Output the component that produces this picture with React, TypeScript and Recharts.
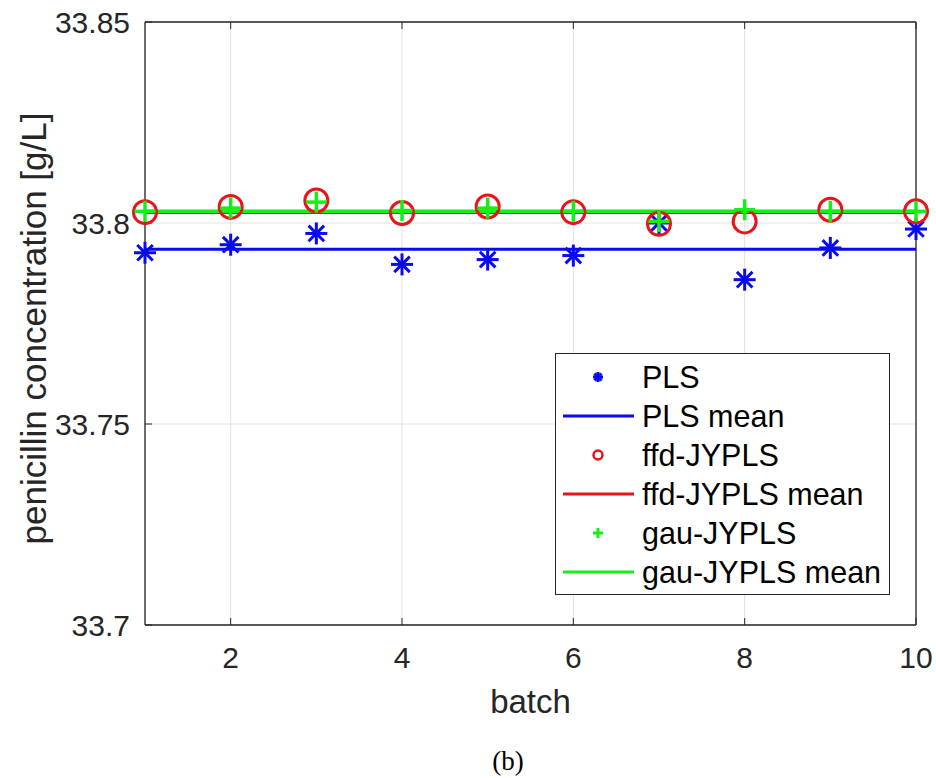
import { ComposedChart, Scatter, Line, XAxis, YAxis, CartesianGrid, Legend, Label } from 'recharts'

// batch results for each model
const BATCHES = [1, 2, 3, 4, 5, 6, 7, 8, 9, 10]
const PLS = [33.7926, 33.7946, 33.7974, 33.7897, 33.7909, 33.7919, 33.8, 33.7859, 33.7938, 33.7985]
const FFD_JYPLS = [33.8027, 33.804, 33.8056, 33.8025, 33.8041, 33.8027, 33.7998, 33.8004, 33.8033, 33.8029]
const GAU_JYPLS = [33.8029, 33.8037, 33.8052, 33.8031, 33.8037, 33.8029, 33.8004, 33.8033, 33.8029, 33.8029]
const PLS_MEAN = 33.7935
const FFD_MEAN = 33.8026
const GAU_MEAN = 33.8029

const X_TICKS = [2, 4, 6, 8, 10]
const Y_TICKS = [33.7, 33.75, 33.8, 33.85]

const BLUE = '#0a0af0'
const RED = '#e8141a'
const GREEN = '#14f014'
const AXIS = '#262626'
const FONT = '"Liberation Sans", Arial, sans-serif'

const data = BATCHES.map((batch, i) => ({
  batch,
  pls: PLS[i],
  plsMean: PLS_MEAN,
  ffd: FFD_JYPLS[i],
  ffdMean: FFD_MEAN,
  gau: GAU_JYPLS[i],
  gauMean: GAU_MEAN,
}))

const Asterisk = ({ cx, cy, r = 11, w = 3 }: any) => {
  const d = r * 0.7071
  return (
    <g stroke={BLUE} strokeWidth={w} strokeLinecap="butt">
      <line x1={cx - r} y1={cy} x2={cx + r} y2={cy} />
      <line x1={cx} y1={cy - r} x2={cx} y2={cy + r} />
      <line x1={cx - d} y1={cy - d} x2={cx + d} y2={cy + d} />
      <line x1={cx - d} y1={cy + d} x2={cx + d} y2={cy - d} />
    </g>
  )
}

const Ring = ({ cx, cy, r = 11.5, w = 3 }: any) => (
  <circle cx={cx} cy={cy} r={r} fill="none" stroke={RED} strokeWidth={w} />
)

const Plus = ({ cx, cy, r = 10.5, w = 3.5 }: any) => (
  <g stroke={GREEN} strokeWidth={w}>
    <line x1={cx - r} y1={cy} x2={cx + r} y2={cy} />
    <line x1={cx} y1={cy - r} x2={cx} y2={cy + r} />
  </g>
)

const SERIES = [
  { key: 'pls', name: 'PLS', icon: <Asterisk cx={42} cy={19} r={5} w={3} /> },
  { key: 'plsMean', name: 'PLS mean', icon: <line x1={7} y1={19} x2={78} y2={19} stroke={BLUE} strokeWidth={3} /> },
  { key: 'ffd', name: 'ffd-JYPLS', icon: <Ring cx={42} cy={19} r={4.5} w={2.5} /> },
  { key: 'ffdMean', name: 'ffd-JYPLS mean', icon: <line x1={7} y1={19} x2={78} y2={19} stroke={RED} strokeWidth={3} /> },
  { key: 'gau', name: 'gau-JYPLS', icon: <Plus cx={42} cy={19} r={5} w={3} /> },
  { key: 'gauMean', name: 'gau-JYPLS mean', icon: <line x1={7} y1={19} x2={78} y2={19} stroke={GREEN} strokeWidth={3} /> },
]

const renderLegend = () => (
  <div
    style={{
      width: 335,
      height: 242,
      boxSizing: 'border-box',
      border: `1.5px solid ${AXIS}`,
      background: '#fff',
      padding: '4px 0',
      fontFamily: FONT,
      fontSize: 30.5,
      color: '#000',
    }}
  >
    {SERIES.map((s) => (
      <div key={s.key} style={{ display: 'flex', alignItems: 'center', height: 39 }}>
        <svg width={86} height={39} style={{ flex: 'none' }}>
          {s.icon}
        </svg>
        <span style={{ whiteSpace: 'nowrap' }}>{s.name}</span>
      </div>
    ))}
  </div>
)

const YTitle = ({ viewBox }: any) => {
  const cy = viewBox.y + viewBox.height / 2 + 5
  return (
    <text
      x={33}
      y={cy}
      transform={`rotate(-90, 33, ${cy})`}
      textAnchor="middle"
      dominantBaseline="central"
      fill={AXIS}
      fontSize={35}
      fontFamily={FONT}
    >
      penicillin concentration [g/L]
    </text>
  )
}

const XTitle = ({ viewBox }: any) => (
  <text
    x={viewBox.x + viewBox.width / 2}
    y={viewBox.y + 88}
    textAnchor="middle"
    fill={AXIS}
    fontSize={33}
    fontFamily={FONT}
  >
    batch
  </text>
)

const tickStyle = { fill: AXIS, fontSize: 30, fontFamily: FONT }

export default function App() {
  return (
    <div style={{ position: 'absolute', left: 0, top: 0, width: 936, height: 778, background: '#fff' }}>
      <ComposedChart width={936} height={778} data={data} margin={{ top: 0, right: 0, bottom: 93, left: 0 }}>
        <CartesianGrid stroke="#e2e2e2" strokeWidth={1} />
        <XAxis
          dataKey="batch"
          type="number"
          domain={[1, 10]}
          ticks={X_TICKS}
          height={60}
          axisLine={{ stroke: AXIS, strokeWidth: 1.3 }}
          tickLine={{ stroke: AXIS }}
          tickSize={-7}
          tickMargin={29}
          tick={tickStyle}
        >
          <Label content={XTitle} />
        </XAxis>
        <XAxis
          xAxisId="top"
          orientation="top"
          dataKey="batch"
          type="number"
          domain={[1, 10]}
          ticks={X_TICKS}
          height={22}
          axisLine={{ stroke: AXIS, strokeWidth: 1.3 }}
          tickLine={{ stroke: AXIS }}
          tickSize={-7}
          tickFormatter={() => ''}
        />
        <YAxis
          type="number"
          domain={[33.7, 33.85]}
          ticks={Y_TICKS}
          width={145}
          axisLine={{ stroke: AXIS, strokeWidth: 1.3 }}
          tickLine={{ stroke: AXIS }}
          tickSize={-7}
          tickMargin={22}
          tick={tickStyle}
        >
          <Label content={YTitle} />
        </YAxis>
        <YAxis
          yAxisId="right"
          orientation="right"
          type="number"
          domain={[33.7, 33.85]}
          ticks={Y_TICKS}
          width={20}
          axisLine={{ stroke: AXIS, strokeWidth: 1.3 }}
          tickLine={{ stroke: AXIS }}
          tickSize={-7}
          tickFormatter={() => ''}
        />
        <Scatter name="PLS" dataKey="pls" shape={<Asterisk />} isAnimationActive={false} />
        <Line name="PLS mean" dataKey="plsMean" stroke={BLUE} strokeWidth={3} dot={false} activeDot={false} isAnimationActive={false} />
        <Scatter name="ffd-JYPLS" dataKey="ffd" shape={<Ring />} isAnimationActive={false} />
        <Line name="ffd-JYPLS mean" dataKey="ffdMean" stroke={RED} strokeWidth={3} dot={false} activeDot={false} isAnimationActive={false} />
        <Scatter name="gau-JYPLS" dataKey="gau" shape={<Plus />} isAnimationActive={false} />
        <Line name="gau-JYPLS mean" dataKey="gauMean" stroke={GREEN} strokeWidth={3.5} dot={false} activeDot={false} isAnimationActive={false} />
        <Legend
          layout="vertical"
          align="center"
          verticalAlign="middle"
          content={renderLegend}
          wrapperStyle={{ left: 555, top: 353, width: 335, height: 242 }}
        />
      </ComposedChart>
      <div
        style={{
          position: 'absolute',
          left: 458,
          top: 745,
          width: 100,
          textAlign: 'center',
          fontFamily: '"Liberation Serif", "Times New Roman", serif',
          fontSize: 27,
          color: '#000',
          lineHeight: '32px',
        }}
      >
        (b)
      </div>
    </div>
  )
}
